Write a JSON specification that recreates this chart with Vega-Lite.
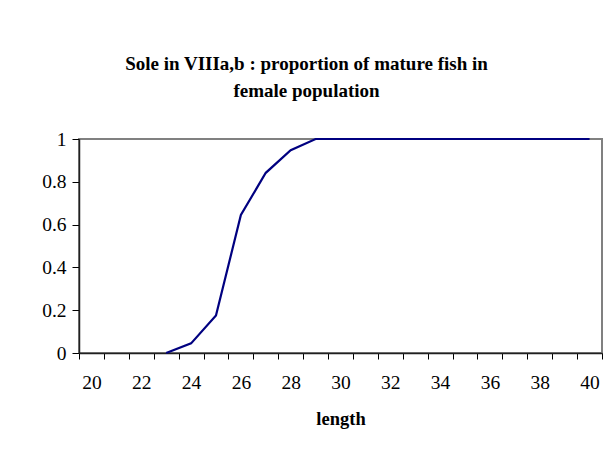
{
  "$schema": "https://vega.github.io/schema/vega-lite/v6.json",
  "autosize": "none",
  "width": 523,
  "height": 214,
  "padding": {"left": 79, "top": 139, "right": 7, "bottom": 106},
  "background": "white",
  "title": {
    "text": ["Sole in VIIIa,b : proportion of mature fish in", "female population"],
    "font": "Liberation Serif",
    "fontSize": 19,
    "fontWeight": "bold",
    "color": "black",
    "offset": 28,
    "dx": -34,
    "lineHeight": 27
  },
  "config": {
    "view": {"stroke": "#808080", "strokeWidth": 2},
    "axis": {
      "labelFont": "Liberation Serif",
      "labelFontSize": 19.5,
      "labelColor": "black",
      "titleFont": "Liberation Serif",
      "titleFontSize": 18.5,
      "titleFontWeight": "bold",
      "titleColor": "black",
      "tickColor": "black",
      "domainColor": "#202020",
      "domainWidth": 1.5,
      "grid": false
    }
  },
  "data": {
    "values": [
      {"length": 23, "proportion": 0},
      {"length": 24, "proportion": 0.045},
      {"length": 25, "proportion": 0.175},
      {"length": 26, "proportion": 0.645},
      {"length": 27, "proportion": 0.842},
      {"length": 28, "proportion": 0.948},
      {"length": 29, "proportion": 1},
      {"length": 30, "proportion": 1},
      {"length": 31, "proportion": 1},
      {"length": 32, "proportion": 1},
      {"length": 33, "proportion": 1},
      {"length": 34, "proportion": 1},
      {"length": 35, "proportion": 1},
      {"length": 36, "proportion": 1},
      {"length": 37, "proportion": 1},
      {"length": 38, "proportion": 1},
      {"length": 39, "proportion": 1},
      {"length": 40, "proportion": 1}
    ]
  },
  "mark": {"type": "line", "color": "#000080", "strokeWidth": 2.2, "clip": false},
  "encoding": {
    "x": {
      "field": "length",
      "type": "quantitative",
      "scale": {"domain": [19.5, 40.5], "nice": false, "zero": false},
      "axis": {
        "title": "length",
        "values": [19.5, 20.5, 21.5, 22.5, 23.5, 24.5, 25.5, 26.5, 27.5, 28.5, 29.5, 30.5, 31.5, 32.5, 33.5, 34.5, 35.5, 36.5, 37.5, 38.5, 39.5, 40.5],
        "labelExpr": "(datum.value + 0.5) % 2 == 0 && datum.value < 40 ? format(datum.value + 0.5, 'd') : ''",
        "labelOffset": 12.45,
        "labelPadding": 14,
        "labelFlush": false,
        "labelOverlap": false,
        "tickSize": 6,
        "titlePadding": 18
      }
    },
    "y": {
      "field": "proportion",
      "type": "quantitative",
      "scale": {"domain": [0, 1], "nice": false},
      "axis": {
        "title": null,
        "values": [0, 0.2, 0.4, 0.6, 0.8, 1],
        "format": "~g",
        "tickSize": 7,
        "labelPadding": 6
      }
    }
  }
}
